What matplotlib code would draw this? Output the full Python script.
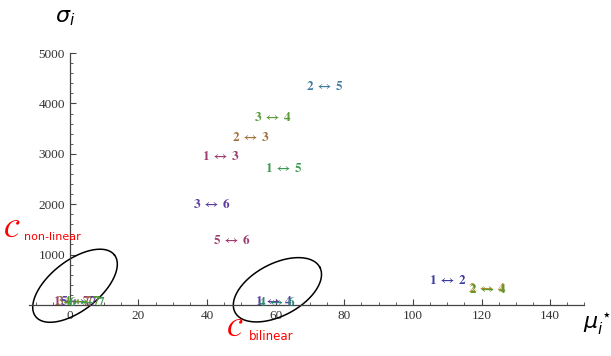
import numpy as np
import matplotlib.pyplot as plt

plt.rcParams['mathtext.fontset'] = 'stix'

# Morris screening: pair labels at (mu*, sigma)
pairs = ['2 ↔ 5', '3 ↔ 4', '2 ↔ 3', '1 ↔ 3', '1 ↔ 5', '3 ↔ 6', '5 ↔ 6',
         '1 ↔ 2', '2 ↔ 4', '2 ↔ 4',
         '1 ↔ 7', '3 ↔ 7', '5 ↔ 7', '4 ↔ 7', '6 ↔ 7',
         '1 ↔ 4', '4 ↔ 6']
mu_star = [74.3, 59.2, 52.8, 44.0, 62.4, 41.4, 47.2,
           110.0, 121.4, 121.8,
           0.5, 1.5, 2.5, 3.5, 5.0,
           59.5, 60.3]
sigma = [4345, 3730, 3333, 2956, 2700, 2004, 1290,
         476, 317, 312,
         60, 60, 60, 60, 60,
         60, 60]
colors = ['#3d7ba0', '#5b9a3a', '#a0703c', '#9c3b6e', '#3c9a55', '#5b3c9c', '#9c3b6e',
          '#3c3c9c', '#c08a3a', '#5a9a2a',
          '#9c3b6e', '#a0703c', '#5b3c9c', '#5a9a2a', '#3c9a55',
          '#5b3c9c', '#2e8a7a']

fig = plt.figure(figsize=(6.11, 3.56), dpi=100)
ax = fig.add_axes([0.047, 0.087, 0.9095, 0.778])
ax.set_xlim(-12, 150)
ax.set_ylim(-400, 5100)

for p, x, y, c in zip(pairs, mu_star, sigma, colors):
    a, b = p.split(' ↔ ')
    lab = r'$\mathbf{%s}\ \boldsymbol{\leftrightarrow}\ \mathbf{%s}$' % (a, b)
    ax.text(x, y, lab, color=c, fontsize=9.5, ha='center', va='center')

# hand-drawn style loops (defined in pixel units, converted to data)
sx = 555.7 / 162.0
sy = 277.0 / 5500.0
def loop(cx, cy, a, b, ang):
    t = np.linspace(0, 2 * np.pi, 200)
    phi = np.deg2rad(ang)
    px = a * np.cos(t) * np.cos(phi) - b * np.sin(t) * np.sin(phi)
    py = a * np.cos(t) * np.sin(phi) + b * np.sin(t) * np.cos(phi)
    ax.plot(cx + px / sx, cy + py / sy, color='black', lw=1.1, clip_on=False)

loop(1.5, 380, 50, 25, 38)
loop(60.5, 300, 48, 26, 28)

for s in ['top', 'right']:
    ax.spines[s].set_visible(False)
ax.spines['left'].set_position(('data', 0))
ax.spines['bottom'].set_position(('data', 0))
ax.spines['left'].set_bounds(0, 5000)
ax.spines['bottom'].set_bounds(-12, 150)
for s in ['left', 'bottom']:
    ax.spines[s].set_color('#444444')
    ax.spines[s].set_linewidth(0.9)

ax.set_xticks(np.arange(0, 141, 20))
ax.set_xticks(np.arange(-10, 151, 5), minor=True)
ax.set_yticks(np.arange(1000, 5001, 1000))
ax.set_yticks(np.arange(0, 5001, 200), minor=True)
ax.tick_params(direction='in', length=4, width=0.8, color='#444444',
               labelsize=9.5, labelcolor='#333333')
ax.tick_params(which='minor', direction='in', length=2.2, width=0.6, color='#444444')
for lab in ax.get_xticklabels() + ax.get_yticklabels():
    lab.set_family('Liberation Serif')

fig.text(0.107, 0.95, r'$\sigma_i$', fontsize=16, ha='center', va='center',
         math_fontfamily='dejavusans')
fig.text(0.978, 0.09, r'$\mu_i^\star$', fontsize=16, ha='center', va='center',
         math_fontfamily='dejavusans')
fig.text(0.005, 0.355, r'$\mathcal{C}$', fontsize=19, color='red', ha='left', va='center')
fig.text(0.04, 0.335, 'non-linear', fontsize=8, color='red', ha='left', va='center')
fig.text(0.37, 0.075, r'$\mathcal{C}$', fontsize=19, color='red', ha='left', va='center')
fig.text(0.407, 0.055, 'bilinear', fontsize=8.5, color='red', ha='left', va='center')

fig.savefig('out.png', dpi=100)
